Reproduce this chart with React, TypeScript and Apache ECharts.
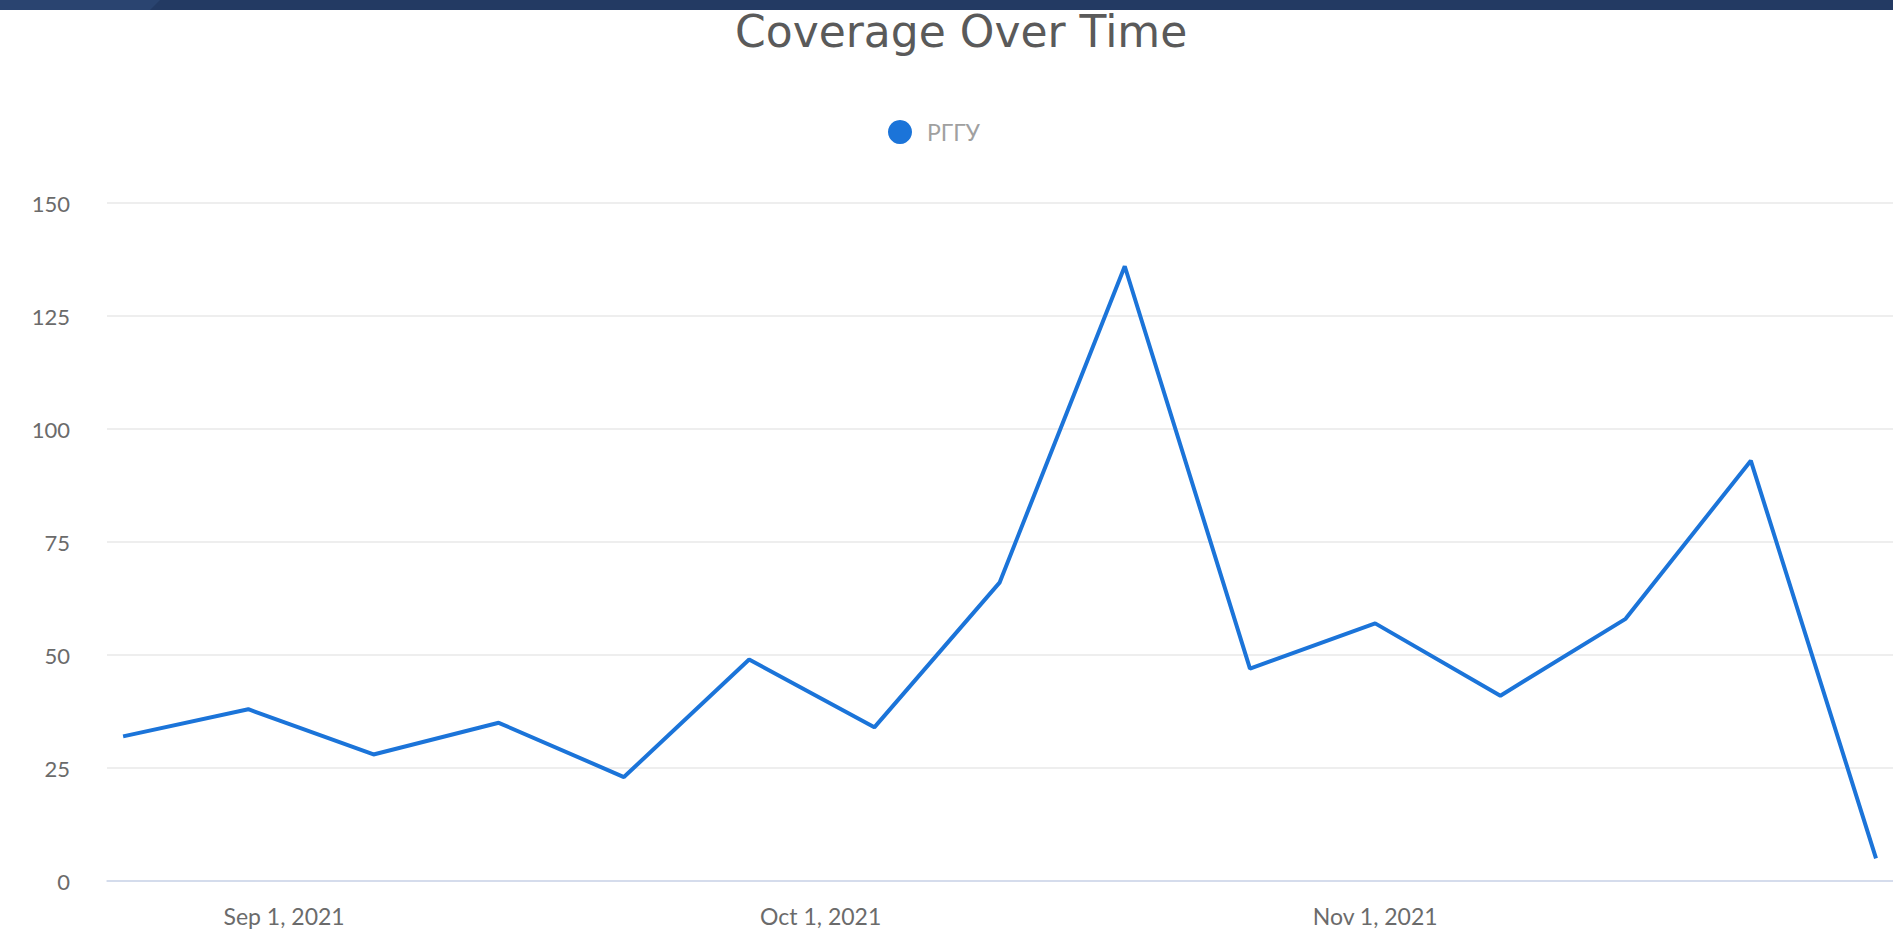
import React, { useEffect, useRef } from "react";
import * as echarts from "echarts";

// Weekly dates (Mondays) and coverage values
const weekDates = [
  "2021-08-23", "2021-08-30", "2021-09-06", "2021-09-13", "2021-09-20",
  "2021-09-27", "2021-10-04", "2021-10-11", "2021-10-18", "2021-10-25",
  "2021-11-01", "2021-11-08", "2021-11-15", "2021-11-22", "2021-11-29",
];
const coverageValues = [32, 38, 28, 35, 23, 49, 34, 66, 136, 47, 57, 41, 58, 93, 5];
const seriesName = "РГГУ";
const xTickDates = ["2021-09-01", "2021-10-01", "2021-11-01"];
const yTicks = [0, 25, 50, 75, 100, 125, 150];
const monthNames = ["Jan", "Feb", "Mar", "Apr", "May", "Jun", "Jul", "Aug", "Sep", "Oct", "Nov", "Dec"];

const DAY = 86400000;
const toMs = (d: string) => Date.parse(d + "T00:00:00Z");

export default function App() {
  const ref = useRef<HTMLDivElement>(null);
  useEffect(() => {
    if (!ref.current) return;
    const chart = echarts.init(ref.current, undefined, { renderer: "svg" });
    const xs = weekDates.map(toMs);
    chart.setOption({
      animation: false,
      backgroundColor: "#ffffff",
      title: {
        text: "Coverage Over Time",
        left: 730,
        top: 4,
        textStyle: {
          fontFamily: "DejaVu Sans",
          fontSize: 44,
          fontWeight: "normal",
          color: "#5a5a5a",
        },
      },
      graphic: [
        { type: "rect", left: 0, top: 0, shape: { x: 0, y: 0, width: 1893, height: 10 }, style: { fill: "#233a63" }, z: 10 },
        { type: "polygon", shape: { points: [[0, 0], [160, 0], [150, 10], [0, 10]] }, style: { fill: "#2a4470" }, z: 11 },
      ],
      legend: {
        data: [seriesName],
        icon: "circle",
        itemWidth: 24,
        itemHeight: 24,
        left: 888,
        top: 120,
        padding: 0,
        textStyle: {
          fontFamily: "Lato",
          fontSize: 23,
          color: "#a0a0a0",
          padding: [0, 0, 0, 10],
        },
      },
      grid: { left: 107, right: 0, top: 203, bottom: 48 },
      xAxis: {
        type: "value",
        min: xs[0] - 0.9 * DAY,
        max: xs[xs.length - 1] + 0.95 * DAY,
        axisLine: { show: true, lineStyle: { color: "#ccd6eb", width: 1.5 } },
        axisTick: { show: false },
        splitLine: { show: false },
        axisLabel: {
          customValues: xTickDates.map(toMs),
          margin: 23,
          fontFamily: "Lato",
          fontSize: 23,
          color: "#6b6b6b",
          formatter: (v: number) => {
            const d = new Date(v);
            return `${monthNames[d.getUTCMonth()]} ${d.getUTCDate()}, ${d.getUTCFullYear()}`;
          },
        },
      },
      yAxis: {
        type: "value",
        min: yTicks[0],
        max: yTicks[yTicks.length - 1],
        interval: yTicks[1] - yTicks[0],
        axisLine: { show: false },
        axisTick: { show: false },
        splitLine: { show: true, lineStyle: { color: "#e8e8e8", width: 1.5 } },
        axisLabel: {
          margin: 37,
          fontFamily: "Lato",
          fontSize: 22,
          color: "#6b6b6b",
        },
      },
      series: [
        {
          name: seriesName,
          type: "line",
          data: xs.map((x, i) => [x, coverageValues[i]]),
          showSymbol: false,
          symbol: "circle",
          itemStyle: { color: "#1b74d9" },
          lineStyle: { color: "#1b74d9", width: 4 },
        },
      ],
    });
    return () => chart.dispose();
  }, []);
  return (
    <div
      ref={ref}
      style={{ position: "absolute", left: 0, top: 0, width: 1893, height: 929 }}
    />
  );
}
